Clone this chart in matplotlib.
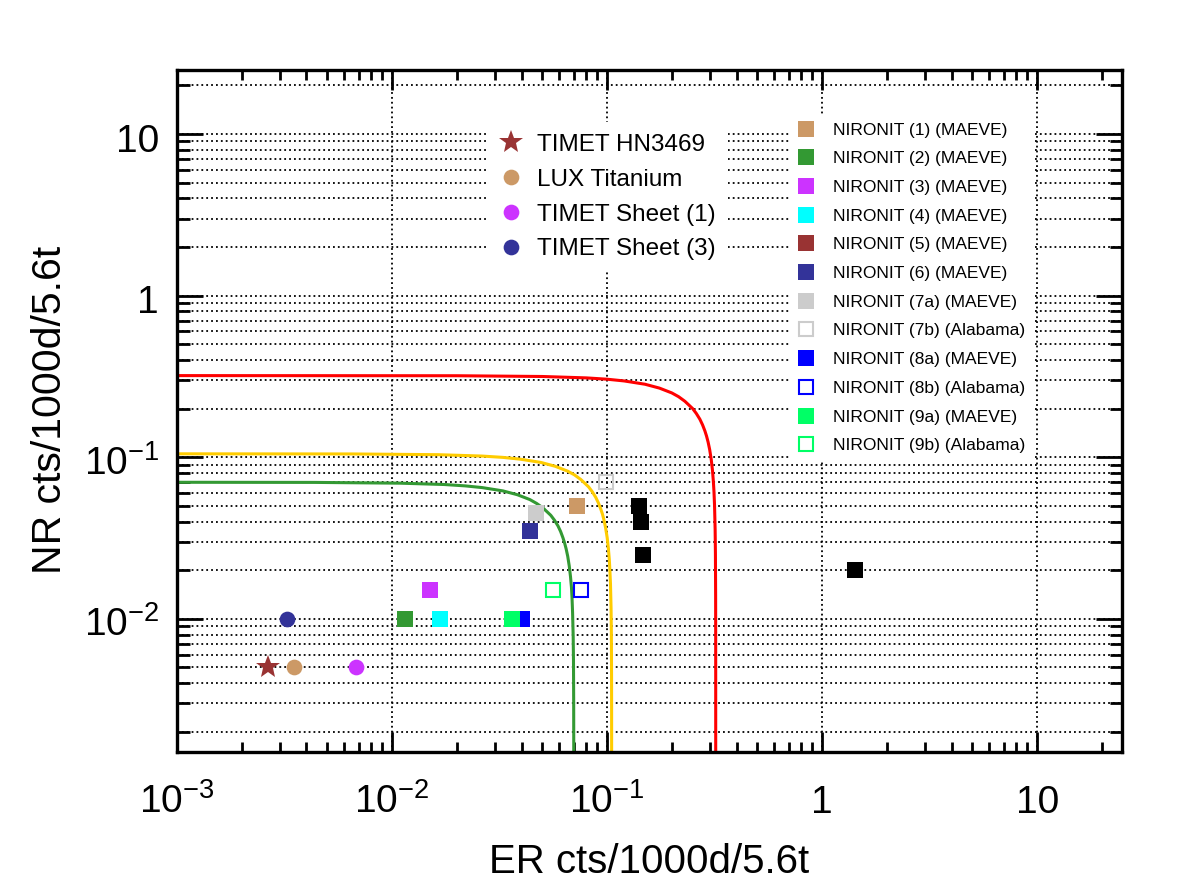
import matplotlib
matplotlib.use("Agg")
import matplotlib.pyplot as plt
from matplotlib.ticker import LogLocator, NullFormatter, FixedLocator
from matplotlib.transforms import blended_transform_factory, ScaledTranslation

plt.rcParams['font.family'] = ['Liberation Sans', 'DejaVu Sans']
plt.rcParams['mathtext.fontset'] = 'custom'
plt.rcParams['mathtext.rm'] = 'Liberation Sans'
plt.rcParams['mathtext.it'] = 'Liberation Sans:italic'
plt.rcParams['mathtext.bf'] = 'Liberation Sans:bold'

# ---------------- data ----------------
x_title = "ER cts/1000d/5.6t"
y_title = "NR cts/1000d/5.6t"
xtick_vals = [1e-3, 1e-2, 1e-1, 1, 10]
xtick_labels = [r'$\mathregular{10^{-3}}$', r'$\mathregular{10^{-2}}$', r'$\mathregular{10^{-1}}$', '1', '10']
ytick_vals = [1e-2, 1e-1, 1, 10]
ytick_labels = [r'$\mathregular{10^{-2}}$', r'$\mathregular{10^{-1}}$', '1', '10']

# limit curves
red_er = [0.001, 0.02, 0.05, 0.08, 0.1, 0.12, 0.15, 0.175, 0.2, 0.215, 0.23, 0.25, 0.26, 0.27, 0.278,
          0.285, 0.29, 0.295, 0.30, 0.305, 0.309, 0.312, 0.314, 0.316, 0.318, 0.319, 0.3197, 0.3199,
          0.31997, 0.319998]
red_nr = [0.32, 0.3194, 0.316, 0.3098, 0.304, 0.2966, 0.283, 0.2679, 0.250, 0.2370, 0.222, 0.200,
          0.1865, 0.172, 0.1585, 0.1455, 0.1353, 0.124, 0.1114, 0.0968, 0.0832, 0.0711, 0.0617, 0.0504,
          0.0357, 0.0253, 0.01385, 0.008, 0.00438, 0.00113]
yellow_er = [0.001, 0.00656, 0.0164, 0.02625, 0.0328, 0.0394, 0.0492, 0.0574, 0.0656, 0.0705, 0.0755,
             0.0820, 0.0853, 0.0886, 0.0912, 0.0935, 0.0952, 0.0968, 0.0984, 0.1001, 0.1014, 0.1024,
             0.1030, 0.1037, 0.10434, 0.10467, 0.1049, 0.10497, 0.104990]
yellow_nr = [0.105, 0.1048, 0.1037, 0.1017, 0.0998, 0.0973, 0.0929, 0.0879, 0.0820, 0.0778, 0.0728,
             0.0656, 0.0612, 0.0564, 0.0520, 0.0477, 0.0444, 0.0407, 0.0366, 0.0318, 0.0273, 0.0233,
             0.0202, 0.0165, 0.0117, 0.0083, 0.00455, 0.00263, 0.00144]
green_er = [0.001, 0.004375, 0.01094, 0.0175, 0.02188, 0.02625, 0.0328, 0.0383, 0.04375, 0.0470, 0.0503,
            0.0547, 0.0569, 0.0591, 0.0608, 0.0623, 0.0634, 0.0645, 0.0656, 0.0667, 0.0676, 0.0683,
            0.0687, 0.0691, 0.06956, 0.06978, 0.06993, 0.06998, 0.069995, 0.0699996]
green_nr = [0.070, 0.06987, 0.0691, 0.0678, 0.0665, 0.0649, 0.0619, 0.0586, 0.0547, 0.0518, 0.0486,
            0.04375, 0.0408, 0.0376, 0.0347, 0.0318, 0.0296, 0.0271, 0.0244, 0.0212, 0.0182, 0.0156,
            0.0135, 0.0110, 0.0078, 0.00553, 0.00303, 0.00167, 0.00096, 0.00025]

# round/star markers
sample_labels = ["TIMET HN3469", "LUX Titanium", "TIMET Sheet (1)", "TIMET Sheet (3)"]
sample_er = [0.00264, 0.0035, 0.00681, 0.00325]
sample_nr = [0.005, 0.005, 0.005, 0.01]

# NIRONIT squares
nironit_labels = ["NIRONIT (1) (MAEVE)", "NIRONIT (2) (MAEVE)", "NIRONIT (3) (MAEVE)",
                  "NIRONIT (4) (MAEVE)", "NIRONIT (5) (MAEVE)", "NIRONIT (6) (MAEVE)",
                  "NIRONIT (7a) (MAEVE)", "NIRONIT (7b) (Alabama)", "NIRONIT (8a) (MAEVE)",
                  "NIRONIT (8b) (Alabama)", "NIRONIT (9a) (MAEVE)", "NIRONIT (9b) (Alabama)"]
nironit_er = [0.0723, 0.01153, 0.0150, 0.0168, None, 0.0438, 0.0468, 0.0986, 0.0401, 0.0759, 0.0361, 0.0563]
nironit_nr = [0.050, 0.010, 0.015, 0.010, None, 0.035, 0.045, 0.070, 0.010, 0.015, 0.010, 0.015]

# unlabelled black squares
other_er = [0.1413, 0.1435, 0.1475, 1.42]
other_nr = [0.050, 0.040, 0.025, 0.020]

# ---------------- styles ----------------
sample_markers = ['*', 'o', 'o', 'o']
sample_sizes = [18, 11.3, 11.3, 11.3]
sample_colors = ['#993333', '#cc9966', '#cc33ff', '#333399']
nironit_colors = ['#cc9966', '#339933', '#cc33ff', '#00ffff', '#993333', '#333399',
                  '#cccccc', '#cccccc', '#0000ff', '#0000ff', '#00ff66', '#00ff66']
nironit_open = [False, False, False, False, False, False, False, True, False, True, False, True]

W, H = 1182, 886
fig = plt.figure(figsize=(W / 100, H / 100), dpi=100)
ax = fig.add_axes([177 / W, 1 - 752 / H, (1122 - 177) / W, (752 - 70) / H])
ax.set_xscale('log')
ax.set_yscale('log')
ax.set_xlim(1e-3, 24.8)
ax.set_ylim(1.5e-3, 24.9)

# grid
gstyle = dict(color='black', linewidth=1.3, linestyle=(0, (1, 1.7)))
ax.grid(True, which='major', axis='both', **gstyle)
ax.grid(True, which='minor', axis='y', **gstyle)
ax.set_axisbelow(True)

# curves
ax.plot(red_er, red_nr, color='#ff0000', lw=2.2, zorder=2)
ax.plot(yellow_er, yellow_nr, color='#ffcc00', lw=2.2, zorder=2)
ax.plot(green_er, green_nr, color='#339933', lw=2.2, zorder=2)

# NIRONIT squares
nir_handles = []
for lab, xv, yv, col, op in zip(nironit_labels, nironit_er, nironit_nr, nironit_colors, nironit_open):
    xs = [] if xv is None else [xv]
    ys = [] if yv is None else [yv]
    if op:
        h, = ax.plot(xs, ys, 's', ms=10.5, mfc='none', mec=col, mew=1.5, label=lab, zorder=3)
    else:
        h, = ax.plot(xs, ys, 's', ms=11, mfc=col, mec=col, mew=0, label=lab, zorder=3)
    nir_handles.append(h)

ax.plot(other_er, other_nr, 's', ms=11, mfc='black', mec='black', mew=0, zorder=3)

sample_handles = []
for lab, xv, yv, mk, sz, col in zip(sample_labels, sample_er, sample_nr, sample_markers, sample_sizes, sample_colors):
    h, = ax.plot([xv], [yv], mk, ms=sz, mfc=col, mec=col, mew=0, label=lab, zorder=4)
    sample_handles.append(h)

# ticks
ax.xaxis.set_major_locator(FixedLocator(xtick_vals))
ax.yaxis.set_major_locator(FixedLocator(ytick_vals))
ax.xaxis.set_minor_locator(LogLocator(base=10, subs=[2, 3, 4, 5, 6, 7, 8, 9], numticks=100))
ax.yaxis.set_minor_locator(LogLocator(base=10, subs=[2, 3, 4, 5, 6, 7, 8, 9], numticks=100))
ax.xaxis.set_major_formatter(NullFormatter())
ax.yaxis.set_major_formatter(NullFormatter())
ax.xaxis.set_minor_formatter(NullFormatter())
ax.yaxis.set_minor_formatter(NullFormatter())
ax.tick_params(which='both', direction='in', top=True, right=True, width=2, color='black')
ax.tick_params(axis='x', which='major', length=14.5)
ax.tick_params(axis='x', which='minor', length=7.2)
ax.tick_params(axis='y', which='major', length=19)
ax.tick_params(axis='y', which='minor', length=9)
for s in ax.spines.values():
    s.set_linewidth(2.4)

# tick labels as text
xtr = blended_transform_factory(ax.transData, ax.transAxes) + ScaledTranslation(0, -61 / 100, fig.dpi_scale_trans)
for v, lab in zip(xtick_vals, xtick_labels):
    ax.text(v, 0, lab, transform=xtr, ha='center', va='baseline', fontsize=28, clip_on=False)
ytr = blended_transform_factory(ax.transAxes, ax.transData) + ScaledTranslation(-18 / 100, -17.5 / 100, fig.dpi_scale_trans)
for v, lab in zip(ytick_vals, ytick_labels):
    ax.text(0, v, lab, transform=ytr, ha='right', va='baseline', fontsize=28, clip_on=False)

# axis titles
fig.text(649.5 / W, 1 - 873 / H, x_title, ha='center', va='baseline', fontsize=29)
fig.text(61 / W, 1 - 410 / H, y_title, ha='center', va='baseline', rotation=90,
         rotation_mode='anchor', fontsize=29.5)

# legends
leg1 = ax.legend(handles=sample_handles, loc='upper left', bbox_to_anchor=(486.7 / W, 1 - 121.8 / H),
                 bbox_transform=fig.transFigure, fontsize=17.5, frameon=True, framealpha=1,
                 facecolor='white', edgecolor='none', fancybox=False, borderpad=0.5,
                 borderaxespad=0, handlelength=1.0, handletextpad=0.57, labelspacing=0.525,
                 numpoints=1)
leg1.get_frame().set_linewidth(0)
ax.add_artist(leg1)
leg2 = ax.legend(handles=nir_handles, loc='upper left', bbox_to_anchor=(788.6 / W, 1 - 113.8 / H),
                 bbox_transform=fig.transFigure, fontsize=12.5, frameon=True, framealpha=1,
                 facecolor='white', edgecolor='none', fancybox=False, borderpad=0.5,
                 borderaxespad=0, handlelength=1.0, handletextpad=1.05, labelspacing=0.78,
                 numpoints=1)
leg2.get_frame().set_linewidth(0)

fig.savefig('out.png', dpi=100)
